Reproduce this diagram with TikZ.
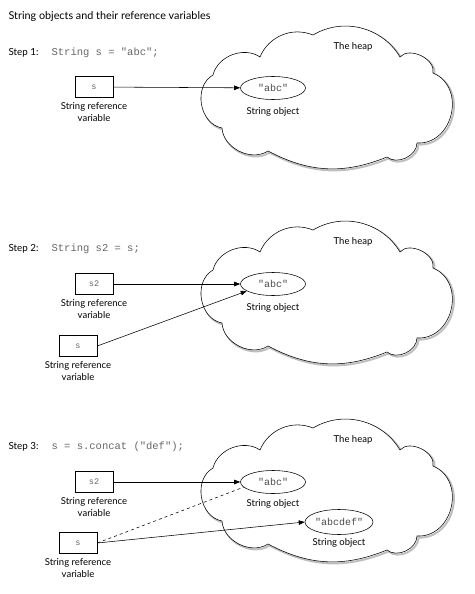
\documentclass[tikz,border=0pt]{standalone}
\usepackage{fontspec}
\setsansfont{Lato}
\setmonofont{Liberation Mono}
\usetikzlibrary{arrows.meta,positioning,shapes.geometric}

\tikzset{
  refbox/.style={draw,minimum width=38pt,minimum height=21pt,inner sep=0pt,
    font=\ttfamily\fontsize{8.5}{10}\selectfont,text=black!60},
  strobj/.style={draw,ellipse,minimum width=65pt,minimum height=23pt,inner sep=0pt,
    font=\ttfamily\fontsize{10}{12}\selectfont,text=black!70},
  lbl/.style={font=\sffamily\fontsize{9.5}{12}\selectfont,align=center},
  steplbl/.style={font=\sffamily\fontsize{9.8}{12}\selectfont,anchor=west},
  code/.style={font=\ttfamily\fontsize{10.5}{12}\selectfont,text=black!60,anchor=west},
  ptr/.style={-{Triangle[length=6pt,width=4.5pt]}},
  heap/.pic={
    \draw[fill=white,preaction={draw=black!25,line width=2pt,
        transform canvas={shift={(1.5pt,-1.5pt)}}}]
      (213,75) to[bend right=70,looseness=1.1] (222,128)
      to[bend right=60] (268,151)
      to[bend right=25] (387,157)
      to[bend right=65] (417,143)
      to[bend right=80,looseness=1.3] (433,73)
      to[bend right=75] (400,57)
      to[bend right=45] (313,35)
      to[bend right=45] (260,57)
      to[bend right=55] (213,75) -- cycle;
    \node[lbl] (-name) at (353,47) {The heap};
  }
}

\begin{document}
\begin{tikzpicture}[x=1pt,y=-1pt,line width=0.55pt]
  \useasboundingbox (0,0) rectangle (474,594);
  \node[anchor=west,font=\sffamily\fontsize{10.8}{13}\selectfont] (title) at (5,17) {String objects and their reference variables};

  % step 1
  \node[steplbl] (step1) at (5,53) {Step 1:};
  \node[code] (code1) at (48,53) {String s = "abc";};
  \pic (heap1) at (0,0) {heap};
  \node[refbox] (s1) at (94,87) {s};
  \node[lbl,below=1pt of s1] (s1lbl) {String reference\\variable};
  \node[strobj] (abc1) at (273,88) {"abc"};
  \node[lbl,below=4pt of abc1] (abc1lbl) {String object};
  \draw[ptr] (s1) -- (abc1);

  % step 2
  \node[steplbl] (step2) at (5,249) {Step 2:};
  \node[code] (code2) at (48,249) {String s2 = s;};
  \pic (heap2) at (0,195) {heap};
  \node[refbox] (s2b) at (94,284) {s2};
  \node[lbl,below=1pt of s2b] (s2blbl) {String reference\\variable};
  \node[refbox] (sb) at (78,346) {s};
  \node[lbl,below=1pt of sb] (sblbl) {String reference\\variable};
  \node[strobj] (abc2) at (273,284) {"abc"};
  \node[lbl,below=4pt of abc2] (abc2lbl) {String object};
  \draw[ptr] (s2b) -- (abc2);
  \draw[ptr] (sb.east) -- (abc2.195);

  % step 3
  \node[steplbl] (step3) at (5,447) {Step 3:};
  \node[code] (code3) at (48,447) {s = s.concat ("def");};
  \pic (heap3) at (0,393) {heap};
  \node[refbox] (s2c) at (94,482) {s2};
  \node[lbl,below=1pt of s2c] (s2clbl) {String reference\\variable};
  \node[refbox] (sc) at (78,543) {s};
  \node[lbl,below=1pt of sc] (sclbl) {String reference\\variable};
  \node[strobj] (abc3) at (273,482) {"abc"};
  \node[lbl,below=2pt of abc3] (abc3lbl) {String object};
  \node[strobj,minimum width=68pt,minimum height=25pt] (abcdef) at (339,522) {"abcdef"};
  \node[lbl,below=0pt of abcdef] (abcdeflbl) {String object};
  \draw[ptr] (s2c) -- (abc3);
  \draw[dashed] (sc.east) -- (abc3.190);
  \draw[ptr] (sc.east) -- (abcdef.west);
\end{tikzpicture}
\end{document}
